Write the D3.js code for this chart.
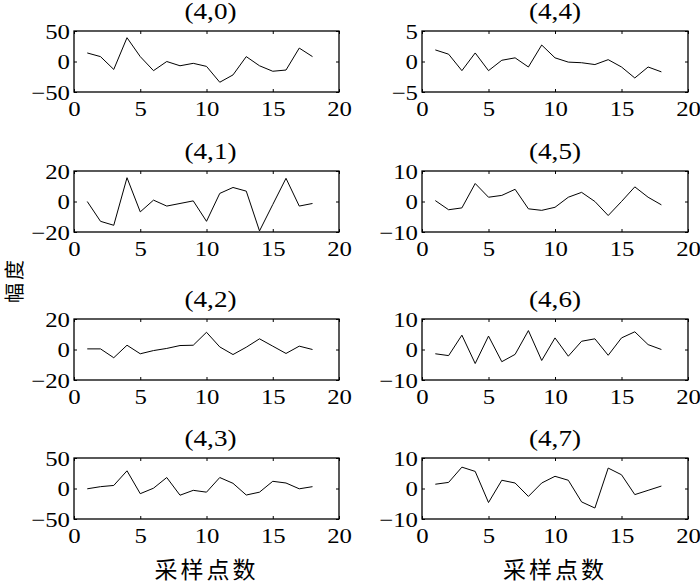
<!DOCTYPE html>
<html>
<head>
<meta charset="utf-8">
<script src="https://cdn.jsdelivr.net/npm/d3@7/dist/d3.min.js"></script>
<style>
  body { margin: 0; background: #fff; }
  svg { display: block; }
  .tick text { font-family: "Liberation Serif", "Times New Roman", serif; }
</style>
</head>
<body>
<svg id="chart" width="700" height="588"></svg>
<script>
// Sample positions along the x axis
const samples = [1, 2, 3, 4, 5, 6, 7, 8, 9, 10, 11, 12, 13, 14, 15, 16, 17, 18];
const xTicks = [0, 5, 10, 15, 20];

// Panel titles and symmetric y limits
const titles = ["(4,0)", "(4,1)", "(4,2)", "(4,3)", "(4,4)", "(4,5)", "(4,6)", "(4,7)"];
const yLimits = [50, 20, 20, 50, 5, 10, 10, 10];

// Amplitude series, one per panel
const s40 = [14, 8, -13, 39, 8, -15, 0, -7, -3, -8, -34, -22, 8, -7, -16, -14, 22, 8];
const s41 = [0, -13, -15.6, 15.6, -6.8, 0.9, -3, -1.3, 0.4, -13, 5.3, 9.2, 6.8, -19.3, -2, 15.2, -3, -1.3];
const s42 = [0.4, 0.4, -5.4, 2.8, -2.8, -0.7, 0.7, 2.6, 2.8, 11.3, 1.7, -3.3, 1.5, 7, 2.2, -2.6, 2.2, 0];
const s43 = [-0.5, 3, 5, 29, -8.5, 0.5, 18, -11, -3, -6, 18, 8.5, -10.7, -6, 11.8, 9, -0.5, 3];
const s44 = [1.9, 1.2, -1.5, 1.4, -1.5, 0.2, 0.6, -0.9, 2.7, 0.6, -0.1, -0.2, -0.5, 0.3, -0.9, -2.7, -0.9, -1.7];
const s45 = [0.3, -2.7, -2.1, 5.9, 1.4, 2.0, 4.0, -2.4, -2.9, -1.9, 1.4, 3.0, 0, -4.6, 0, 4.8, 1.4, -1.1];
const s46 = [-1.4, -2.0, 4.7, -4.6, 4.4, -4.0, -1.6, 6.2, -3.6, 3.8, -2.2, 2.7, 3.5, -1.9, 3.8, 5.8, 1.6, 0];
const s47 = [1.4, 2, 7, 5.6, -4.6, 2.7, 1.8, -2.6, 1.8, 4, 2.7, -4.4, -6.4, 6.7, 4.5, -2, -0.6, 0.8];
const series = [s40, s41, s42, s43, s44, s45, s46, s47];

const xLabel = "采样点数";
const yLabel = "幅度";

// Grid geometry
const colX = [[74, 339], [422, 688]];
const rowTop = [31, 171, 319, 458];
const panelH = 61;
const stretch = 1.18;   // wide serif glyphs

const svg = d3.select("#chart");
const fmt = d3.format("");

series.forEach((values, i) => {
  const col = Math.floor(i / 4), row = i % 4;
  const [x0, x1] = colX[col];
  const y0 = rowTop[row], y1 = y0 + panelH;
  const lim = yLimits[i];

  const x = d3.scaleLinear().domain([0, 20]).range([x0, x1]);
  const y = d3.scaleLinear().domain([-lim, lim]).range([y1, y0]);
  const yTicks = [-lim, 0, lim];

  const g = svg.append("g");

  // Data line
  g.append("path")
    .datum(values)
    .attr("fill", "none")
    .attr("stroke", "#000")
    .attr("stroke-width", 1)
    .attr("d", d3.line().x((d, k) => x(samples[k])).y(d => y(d)));

  // Bottom axis with labels, inward ticks
  const bx = g.append("g").attr("transform", `translate(0,${y1})`)
    .call(d3.axisBottom(x).tickValues(xTicks).tickSizeInner(-3).tickSizeOuter(0).tickPadding(0).tickFormat(fmt));
  bx.selectAll("text")
    .attr("y", 0).attr("dy", "1.12em")
    .attr("font-size", 21)
    .attr("fill", "#000")
    .attr("transform", `scale(${stretch},1)`);

  // Left axis with labels
  const ly = g.append("g").attr("transform", `translate(${x0},0)`)
    .call(d3.axisLeft(y).tickValues(yTicks).tickSizeInner(-3).tickSizeOuter(0).tickPadding(0).tickFormat(fmt));
  ly.selectAll("text")
    .attr("x", -4 / stretch)
    .attr("dy", "0.34em")
    .attr("font-size", 21)
    .attr("fill", "#000")
    .attr("transform", `scale(${stretch},1)`);

  // Mirrored ticks on top and right
  g.append("g").attr("transform", `translate(0,${y0})`)
    .call(d3.axisTop(x).tickValues(xTicks).tickSizeInner(-3).tickSizeOuter(0).tickFormat(""));
  g.append("g").attr("transform", `translate(${x1},0)`)
    .call(d3.axisRight(y).tickValues(yTicks).tickSizeInner(-3).tickSizeOuter(0).tickFormat(""));

  g.selectAll(".domain").remove();
  g.selectAll(".tick line").attr("stroke", "#000").attr("stroke-width", 1);

  // Frame
  g.append("rect")
    .attr("x", x0).attr("y", y0)
    .attr("width", x1 - x0).attr("height", y1 - y0)
    .attr("fill", "none").attr("stroke", "#000").attr("stroke-width", 1.3);

  // Title
  g.append("text")
    .attr("transform", `translate(${(x0 + x1) / 2 + (col === 0 ? 4 : 0)},${y0 - 12}) scale(${stretch},1)`)
    .attr("text-anchor", "middle")
    .attr("font-family", "Liberation Serif, Times New Roman, serif")
    .attr("font-size", 23)
    .attr("fill", "#000")
    .text(titles[i]);
});

// Shared axis titles
colX.forEach(([x0, x1]) => {
  svg.append("text")
    .attr("x", (x0 + x1) / 2)
    .attr("y", 578)
    .attr("text-anchor", "middle")
    .attr("font-family", "Noto Sans CJK SC, sans-serif")
    .attr("font-size", 23)
    .attr("letter-spacing", 3)
    .attr("fill", "#000")
    .text(xLabel);
});

svg.append("text")
  .attr("transform", "translate(13,280) rotate(-90)")
  .attr("text-anchor", "middle")
  .attr("dominant-baseline", "central")
  .attr("font-family", "Noto Sans CJK SC, sans-serif")
  .attr("font-size", 20)
  .attr("letter-spacing", 3)
  .attr("fill", "#000")
  .text(yLabel);
</script>
</body>
</html>
